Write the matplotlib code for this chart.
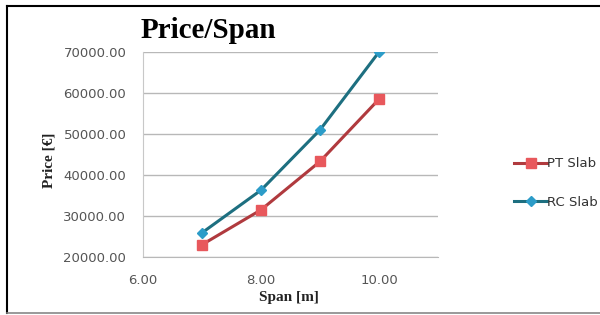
import matplotlib.pyplot as plt
from matplotlib.lines import Line2D

# datos
span = [7, 8, 9, 10]
pt_slab = [23000, 31500, 43300, 58500]
rc_slab = [25900, 36300, 51000, 70000]

fig = plt.figure(figsize=(6, 3.15), dpi=100)
ax = fig.add_axes([143 / 600, 1 - 257 / 315, (438 - 143) / 600, (257 - 52) / 315])

ax.plot(span, pt_slab, color="#b03a3e", linewidth=2.2, marker="s", markersize=7,
        markerfacecolor="#e8585c", markeredgecolor="#e8585c", label="PT Slab")
ax.plot(span, rc_slab, color="#1d6f80", linewidth=2.2, marker="D", markersize=5,
        markerfacecolor="#2c9cc8", markeredgecolor="#2c9cc8", label="RC Slab")

ax.set_xlim(6, 11)
ax.set_ylim(20000, 70000)
ax.set_xticks([6, 8, 10])
ax.set_xticklabels(["6.00", "8.00", "10.00"])
ax.set_yticks(range(20000, 70001, 10000))
ax.set_yticklabels([f"{v}.00" for v in range(20000, 70001, 10000)])
ax.tick_params(length=0, labelsize=9.5, colors="#555555")
ax.tick_params(axis="y", pad=12)
ax.tick_params(axis="x", pad=12)
ax.grid(axis="y", color="#b8b8b8", linewidth=1)
ax.set_axisbelow(True)
for s in ["top", "right"]:
    ax.spines[s].set_visible(False)
ax.spines["left"].set_color("#c8c8c8")
ax.spines["bottom"].set_color("#b8b8b8")

fig.text(208 / 600, 1 - 31 / 315, "Price/Span", ha="center", va="center",
         fontsize=21, fontweight="bold", family="Liberation Serif")
fig.text(289 / 600, 1 - 298 / 315, "Span [m]", ha="center", va="center",
         fontsize=11, fontweight="bold", family="Liberation Serif", color="#222222")
fig.text(49 / 600, 1 - 160 / 315, "Price [€]", ha="center", va="center",
         rotation=90, fontsize=11, fontweight="bold", family="Liberation Serif",
         color="#222222")

fig.legend(loc="center left", bbox_to_anchor=(509 / 600, 1 - 183 / 315),
           frameon=False, fontsize=9.5, handlelength=2.5, labelspacing=1.9,
           handletextpad=0.0, labelcolor="#333333", borderaxespad=0)

# marco exterior
fig.add_artist(Line2D([7 / 600, 7 / 600], [2 / 315, 1 - 6 / 315], color="black", lw=1.5))
fig.add_artist(Line2D([7 / 600, 1], [1 - 6 / 315, 1 - 6 / 315], color="black", lw=1.5))
fig.add_artist(Line2D([7 / 600, 1], [2 / 315, 2 / 315], color="#888888", lw=1.2))

fig.savefig("out.png", dpi=100)
